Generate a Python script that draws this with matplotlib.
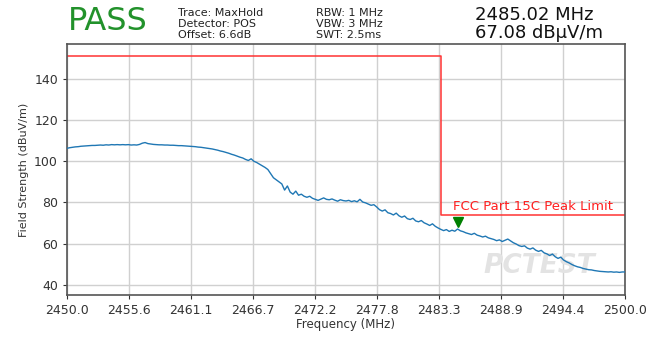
import numpy as np
import matplotlib
matplotlib.use("Agg")
import matplotlib.pyplot as plt
import matplotlib.transforms as mtransforms

# ---- data ----
freq_start, freq_stop = 2450.0, 2500.0
levels = [
    106.3, 106.6, 106.8, 107.0,
    107.1, 107.3, 107.4, 107.5,
    107.6, 107.7, 107.7, 107.8,
    107.9, 107.8, 108.0, 107.9,
    108.1, 108.0, 108.1, 108.0,
    108.1, 108.0, 108.1, 107.9,
    108.0, 107.9, 108.2, 108.8,
    109.1, 108.6, 108.4, 108.2,
    108.1, 108.0, 108.0, 107.9,
    107.9, 107.8, 107.8, 107.7,
    107.6, 107.6, 107.5, 107.4,
    107.3, 107.2, 107.1, 106.9,
    106.8, 106.6, 106.4, 106.2,
    106.0, 105.7, 105.4, 105.0,
    104.7, 104.3, 103.9, 103.4,
    103.0, 102.5, 102.0, 101.6,
    100.9, 100.4, 101.2, 100.0,
    99.4, 98.6, 97.8, 97.0,
    96.0, 94.0, 92.0, 91.0,
    90.0, 89.0, 86.0, 88.0,
    85.0, 84.0, 85.5, 83.5,
    84.0, 83.0, 82.5, 83.0,
    82.0, 81.5, 81.0, 81.6,
    82.2, 81.5, 81.3, 81.7,
    81.1, 80.6, 81.3, 80.9,
    80.7, 81.0, 80.4, 80.8,
    80.3, 81.5, 80.2, 79.8,
    79.2, 78.6, 78.9, 77.8,
    76.5, 75.8, 76.4, 75.0,
    74.6, 73.9, 74.8, 73.5,
    72.8, 73.4, 72.1, 71.7,
    72.3, 71.0, 70.6, 71.2,
    70.1, 69.5, 68.8, 69.6,
    68.4, 67.6, 66.9, 66.3,
    66.8, 65.9, 66.5, 66.0,
    67.08, 66.2, 65.8, 65.2,
    64.8, 64.4, 65.0, 64.1,
    63.7, 63.2, 63.6, 62.8,
    62.4, 62.0, 61.4, 61.8,
    61.0, 61.6, 62.2, 61.3,
    60.4, 59.8, 59.0, 58.6,
    58.9, 57.8, 57.3, 57.9,
    56.8, 56.2, 56.7, 55.5,
    55.0, 54.2, 54.9, 53.6,
    52.8, 53.4, 52.0, 51.2,
    50.6, 49.8, 49.2, 48.7,
    48.4, 47.9, 47.6, 47.3,
    47.2, 46.9, 46.7, 46.5,
    46.4, 46.3, 46.2, 46.3,
    46.1, 46.2, 46.0, 46.2,
    46.2,
]
limit_freq = [2450.0, 2483.5, 2483.5, 2500.0]
limit_level = [151.0, 151.0, 74.0, 74.0]
marker_freq, marker_level = 2485.02, 67.08
xtick_labels = ["2450.0", "2455.6", "2461.1", "2466.7", "2472.2",
                "2477.8", "2483.3", "2488.9", "2494.4", "2500.0"]
yticks = [40, 60, 80, 100, 120, 140]

freq = np.linspace(freq_start, freq_stop, len(levels))

fig = plt.figure(figsize=(6.58, 3.37), dpi=100)
ax = fig.add_axes([0.1018, 0.1246, 0.8480, 0.7448])

ax.plot(freq, levels, color="#1f77b4", lw=1.0, zorder=3)
ax.plot(limit_freq, limit_level, color="#ff3333", lw=1.1, zorder=2)
ax.text(2484.6, 75.0, "FCC Part 15C Peak Limit", color="#ff2020",
        fontsize=9.5, ha="left", va="bottom")

off = mtransforms.ScaledTranslation(0, 7 / 100, fig.dpi_scale_trans)
ax.plot([marker_freq], [marker_level], marker="v", color="green",
        markersize=6.5, ls="none", transform=ax.transData + off, zorder=4)

# watermark
ax.text(2487.3, 49.0, "PCTEST", color="#e3e3e3", fontsize=19, style="italic",
        weight="bold", ha="left", va="center", zorder=1)

ax.set_xlim(freq_start, freq_stop)
ax.set_ylim(35, 157)
ax.set_xticks(np.linspace(freq_start, freq_stop, len(xtick_labels)))
ax.set_xticklabels(xtick_labels)
ax.set_yticks(yticks)
ax.grid(True, color="#d0d0d0", lw=1.0)
ax.set_axisbelow(True)
for s in ax.spines.values():
    s.set_color("#555555")
    s.set_linewidth(1.2)
ax.tick_params(labelsize=9, colors="#333333", length=3)
ax.set_xlabel("Frequency (MHz)", fontsize=8.5, color="#333333", labelpad=1)
ax.set_ylabel("Field Strength (dBuV/m)", fontsize=8, color="#333333", labelpad=4)

fig.text(68 / 658, 1 - 22 / 337, "PASS", color="#22922b", fontsize=23,
         ha="left", va="center")
fig.text(178 / 658, 1 - 24 / 337, "Trace: MaxHold\nDetector: POS\nOffset: 6.6dB",
         fontsize=8, color="#222222", ha="left", va="center", linespacing=1.15)
fig.text(316 / 658, 1 - 24 / 337, "RBW: 1 MHz\nVBW: 3 MHz\nSWT: 2.5ms",
         fontsize=8, color="#222222", ha="left", va="center", linespacing=1.15)
fig.text(475 / 658, 1 - 24 / 337, "2485.02 MHz\n67.08 dB\u00b5V/m",
         fontsize=13, color="#111111", ha="left", va="center", linespacing=1.05)

fig.savefig("out.png", dpi=100)
